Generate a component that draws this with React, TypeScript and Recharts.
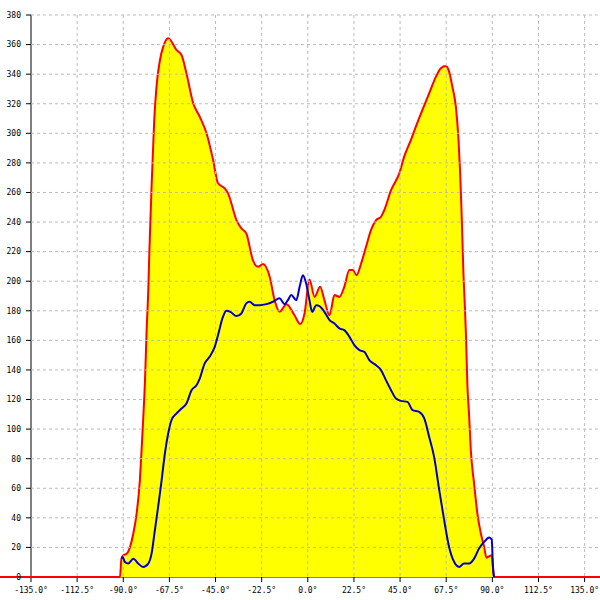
import { ComposedChart, Area, Line, XAxis, YAxis, CartesianGrid, ReferenceLine } from 'recharts'

// axis ticks
const xTicks = [-135, -112.5, -90, -67.5, -45, -22.5, 0, 22.5, 45, 67.5, 90, 112.5, 135]
const yTicks = [0, 20, 40, 60, 80, 100, 120, 140, 160, 180, 200, 220, 240, 260, 280, 300, 320, 340, 360, 380]

// red / yellow filled series
const redAngles = [
  -135, -91.6, -90.9, -90.0, -88.3, -86.7, -85.1, -83.5, -81.9, -81.0, -80.3, -79.4, -78.6, -77.8, -77.3,
  -76.2, -74.9, -73.8, -72.1, -70.5, -68.1, -64.0, -61.6, -59.2, -55.9, -52.7, -49.4, -46.2, -43.8, -40.5,
  -38.9, -34.8, -32.4, -30.0, -26.8, -24.3, -21.9, -18.6, -16.2, -13.8, -10.4, -6.5, -3.7, -1.6, 0.8, 3.3,
  6.0, 8.1, 10.6, 13.0, 15.4, 17.8, 20.3, 21.9, 23.8, 26.0, 28.4, 30.8, 33.3, 35.7, 37.3, 40.6, 44.6, 47.0,
  50.3, 52.7, 55.9, 59.2, 62.5, 64.9, 67.3, 68.9, 70.5, 72.2, 73.5, 74.3, 74.9, 75.4, 75.9, 76.6, 77.1, 77.8,
  78.7, 79.5, 81.1, 82.7, 84.4, 86.0, 87.1, 88.4, 89.7, 90.3, 90.8, 142.5,
]
const redValues = [
  0, 0, 12.4, 14.7, 15.8, 20.3, 29.4, 42.9, 65.4, 88, 106.4, 133, 167, 194, 218.8,
  263.9, 309, 331.5, 349.6, 358.6, 364.3, 356.3, 353, 340.6, 320.3, 311.2, 300, 282, 266.2, 262.8,
  259.4, 241.3, 235.7, 232.3, 214.3, 209.7, 211.6, 203, 187.2, 179.3, 184.5, 177, 171, 178.2, 201.2, 189.4,
  196.2, 187.2, 177, 190.6, 189.4, 196.2, 207.5, 207.5, 204.1, 212, 223.3, 234.6, 241.3, 243.6, 248.1, 261.6, 272.9, 284.2,
  295.5, 304.5, 315.8, 327.1, 338.3, 344, 345.5, 341.7, 331.5, 318, 295.5, 272.9, 250.3, 227.8, 205.3, 182.7, 164.7, 130.9,
  108.3, 85.7, 63.2, 42.9, 29.4, 20.3, 13.1, 14, 14.7, 6.8, 0, 0,
]

// blue line series
const blueAngles = [
  -90.8, -90.3, -89.2, -87.6, -85.1, -82.7, -80.3, -77.8, -76.2, -74.6, -73.0, -71.3, -69.7, -68.1,
  -66.5, -64.0, -61.6, -59.2, -56.7, -54.3, -52.7, -50.3, -47.9, -45.4, -43.8, -41.4, -39.7, -37.8, -34.8,
  -32.4, -30.0, -28.4, -25.9, -23.5, -20.2, -17.0, -13.8, -11.3, -9.7, -8.1, -5.6, -4.0, -2.4, -0.8, 0.8,
  2.1, 4.1, 5.7, 8.1, 10.6, 13.0, 15.4, 17.8, 20.3, 22.7, 25.2, 27.6, 30.0, 33.3, 35.7, 38.1, 40.6, 43.0,
  45.4, 48.6, 51.1, 54.3, 56.8, 59.2, 61.6, 64.1, 66.5, 68.9, 71.4, 73.8, 76.2, 78.7, 81.1, 83.5, 86.0,
  88.4, 89.7, 90.3, 90.8,
]
const blueValues = [
  12.4, 13.5, 10.1, 9.1, 12.4, 9.1, 6.8, 9.1, 15.8, 31.6, 47.4, 65.4, 83.5, 97,
  106, 110.6, 113.9, 117.3, 126.3, 129.7, 134.2, 144.4, 148.9, 155.6, 163.5, 175.9, 180, 179.3, 176.4,
  178.2, 185, 186.1, 183.8, 183.8, 184.5, 186.1, 188.4, 184.5, 187.2, 190.6, 187.2, 196.2, 204.1, 198.5, 187.2,
  179.3, 183.8, 183.2, 179.3, 173.7, 171.4, 168.1, 166.9, 162.4, 156.8, 153.4, 152.2, 146.6, 143.2, 139.9, 133.1, 126.3, 120.7,
  119.1, 118.4, 112.8, 111.6, 107.2, 94.7, 81.2, 58.7, 38.4, 20.3, 10.1, 6.8, 9.1, 9.1, 12.4, 19.2, 23.7,
  26.7, 25.3, 6.8, 0,
]

const redData = redAngles.map((angle, i) => ({ angle, value: redValues[i] }))
const blueData = blueAngles.map((angle, i) => ({ angle, value: blueValues[i] }))

const tickStyle = { fontFamily: 'DejaVu Sans Mono', fontSize: 8, fill: '#000' }

export default function App() {
  return (
    <div style={{ position: 'absolute', left: 0, top: 0, width: 600, height: 600, background: '#fff' }}>
      <ComposedChart width={600} height={600} margin={{ top: 15, right: 0, bottom: 0, left: 0 }}>
        <XAxis
          type='number'
          dataKey='angle'
          domain={[-135, 142.5]}
          ticks={xTicks}
          interval={0}
          height={23}
          tick={tickStyle}
          tickSize={5}
          tickMargin={5}
          tickLine={{ stroke: '#000' }}
          axisLine={{ stroke: '#000', strokeWidth: 1 }}
          tickFormatter={(v) => `${Number(v).toFixed(1)}°`}
          zIndex={50}
        />
        <YAxis
          type='number'
          domain={[0, 380]}
          ticks={yTicks}
          interval={0}
          width={31}
          tick={tickStyle}
          tickSize={5}
          tickMargin={5}
          tickLine={{ stroke: '#000' }}
          axisLine={{ stroke: '#000', strokeWidth: 1 }}
          zIndex={50}
        />
        <Area
          type='monotone'
          data={redData}
          dataKey='value'
          stroke='#ff0000'
          strokeWidth={2}
          fill='#ffff00'
          fillOpacity={1}
          dot={false}
          activeDot={false}
          isAnimationActive={false}
          zIndex={100}
        />
        <CartesianGrid
          stroke='#bbbbbb'
          strokeDasharray='3 3'
          horizontalValues={yTicks.filter((v) => v > 0)}
          verticalValues={xTicks.filter((v) => v > -135)}
          zIndex={150}
        />
        <Line
          type='monotone'
          data={blueData}
          dataKey='value'
          stroke='#0000c8'
          strokeWidth={2}
          dot={false}
          activeDot={false}
          isAnimationActive={false}
          zIndex={400}
        />
        <ReferenceLine
          segment={[{ x: -150.5, y: 0 }, { x: -135, y: 0 }]}
          stroke='#ff0000'
          strokeWidth={2}
          ifOverflow='visible'
          zIndex={450}
        />
      </ComposedChart>
    </div>
  )
}
